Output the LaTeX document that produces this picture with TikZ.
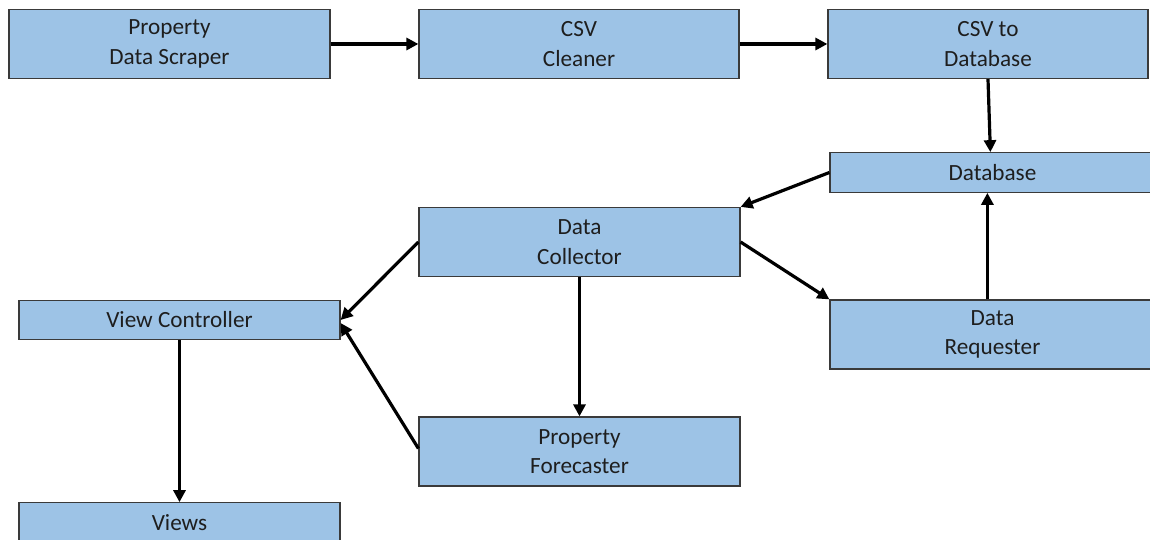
\documentclass[tikz,border=0pt]{standalone}
\usepackage{fontspec}
\setmainfont{Carlito}
\usetikzlibrary{arrows.meta,calc}
\definecolor{boxfill}{HTML}{9DC3E6}
\definecolor{boxline}{HTML}{3A3A3A}
\definecolor{boxtext}{HTML}{1E1E1E}
\begin{document}
\begin{tikzpicture}[x=1bp,y=-1bp,
  module/.style={draw=boxline, line width=1.2bp, fill=boxfill, inner sep=0pt,
    align=center, text=boxtext, font=\fontsize{23.3}{29.5}\selectfont},
  tall/.style={minimum height=69bp},
  flat/.style={minimum height=39.5bp},
  flow/.style={line width=3.2bp, -{Triangle[length=12bp,width=12bp]}}]
\useasboundingbox (0,0) rectangle (1150,540);
\clip (0,0) rectangle (1150,540);
\fill[white] (0,0) rectangle (1150,540);

% modules
\node[module, tall, minimum width=321bp] (scraper)    at (169.5,44)  {Property\\Data Scraper};
\node[module, tall, minimum width=320bp] (cleaner)    at (579,44)    {CSV\\Cleaner};
\node[module, tall, minimum width=320bp] (csvdb)      at (988,44)    {CSV to\\Database};
\node[module, flat, minimum width=325bp] (db)         at (992.5,172.5) {Database};
\node[module, tall, minimum width=321bp] (collector)  at (579.5,242)   {Data\\Collector};
\node[module, tall, minimum width=325bp] (requester)  at (992.5,334.5) {Data\\Requester};
\node[module, flat, minimum width=321bp] (vc)         at (179.5,320)   {View Controller};
\node[module, tall, minimum width=321bp] (forecaster) at (579.5,451.5) {Property\\Forecaster};
\node[module, flat, minimum width=321bp] (views)      at (179.5,522.5) {Views};

% data flow
\draw[flow] (scraper.east) -- (cleaner.west);
\draw[flow] (cleaner.east) -- (csvdb.west);
\draw[flow] (csvdb.south) -- ($(db.north west)+(161,0)$);
\draw[flow] (db.west) -- (collector.north east);
\draw[flow] (collector.east) -- (requester.north west);
\draw[flow] ($(requester.north west)+(158,0)$) -- ($(db.south west)+(158,0)$);
\draw[flow] (collector.south) -- (forecaster.north);
\draw[flow] (collector.west) -- (vc.east);
\draw[flow] ($(forecaster.west)+(0,-3)$) -- ($(vc.east)+(0,3)$);
\draw[flow] (vc.south) -- (views.north);
\end{tikzpicture}
\end{document}
